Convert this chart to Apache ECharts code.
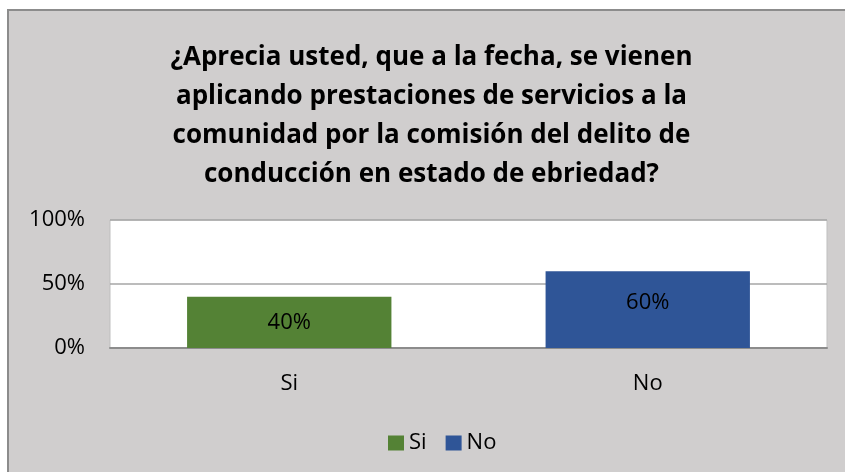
<!DOCTYPE html>
<html>
<head>
<meta charset="utf-8">
<script src="https://cdn.jsdelivr.net/npm/echarts@6/dist/echarts.min.js"></script>
<style>
  html, body { margin: 0; padding: 0; background: #ffffff; }
  #chart {
    position: absolute; left: 7px; top: 9px;
    width: 845px; height: 470px;
    border-left: 2px solid #8c8c8c; border-top: 2px solid #8c8c8c;
    background: #d0cece;
  }
</style>
</head>
<body>
<div id="chart"></div>
<script>
const titulo = '¿Aprecia usted, que a la fecha, se vienen\naplicando prestaciones de servicios a la\ncomunidad por la comisión del delito de\nconducción en estado de ebriedad?';
const categorias = ['Si', 'No'];
const porcentajes = [40, 60];
const ticksY = [0, 50, 100];

const colores = ['#548235', '#2f5597'];
// desplazamiento de la etiqueta de cada barra (la de "No" va un poco más arriba)
const offsets = [[0, 0], [0, -7]];

const fuente = '"Open Sans", sans-serif';

const chart = echarts.init(document.getElementById('chart'));

const series = categorias.map((cat, i) => ({
  name: cat,
  type: 'bar',
  stack: 'total',
  barWidth: '57%',
  itemStyle: { color: colores[i] },
  label: {
    show: true,
    position: 'inside',
    offset: offsets[i],
    formatter: '{c}%',
    color: '#000',
    fontFamily: fuente,
    fontSize: 22
  },
  data: categorias.map((c, j) => (j === i ? porcentajes[i] : '-'))
}));

chart.setOption({
  animation: false,
  backgroundColor: 'transparent',
  title: {
    text: titulo,
    left: 'center',
    top: 22,
    textStyle: {
      fontFamily: fuente,
      fontWeight: 'bold',
      fontSize: 26,
      lineHeight: 39,
      color: '#000'
    }
  },
  legend: {
    data: categorias,
    left: 374,
    top: 416,
    itemWidth: 16,
    itemHeight: 15,
    itemGap: 19,
    icon: 'rect',
    textStyle: { fontFamily: fuente, fontSize: 22, color: '#000' }
  },
  grid: {
    left: 101,
    top: 209,
    width: 717,
    height: 128,
    show: true,
    backgroundColor: '#ffffff',
    borderColor: '#bfbfbf',
    borderWidth: 1
  },
  xAxis: {
    type: 'category',
    data: categorias,
    axisTick: { show: false },
    axisLine: { lineStyle: { color: '#8c8c8c', width: 2 } },
    axisLabel: { margin: 25, fontFamily: fuente, fontSize: 22, color: '#000' }
  },
  yAxis: {
    type: 'value',
    min: ticksY[0],
    max: ticksY[ticksY.length - 1],
    interval: ticksY[1] - ticksY[0],
    axisLine: { show: false },
    axisTick: { show: false },
    splitLine: { lineStyle: { color: '#a6a6a6', width: 1.5 } },
    axisLabel: { margin: 25, formatter: '{value}%', fontFamily: fuente, fontSize: 22, color: '#000' }
  },
  series: series
});
</script>
</body>
</html>
